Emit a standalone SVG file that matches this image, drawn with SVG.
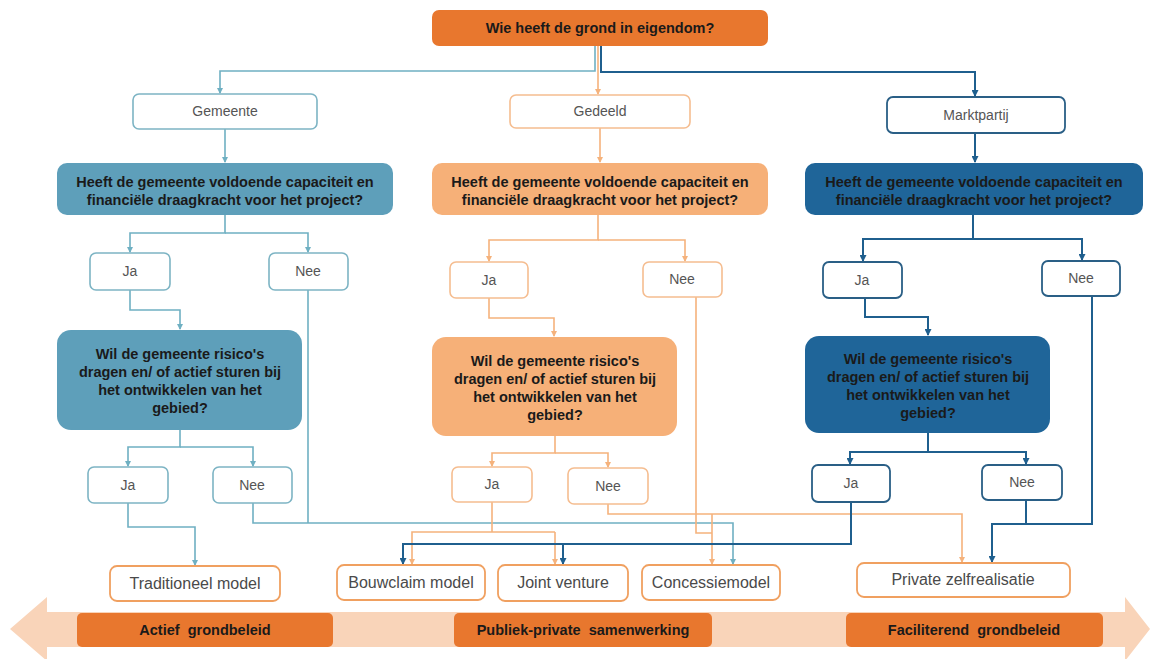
<svg xmlns="http://www.w3.org/2000/svg" width="1153" height="659" viewBox="0 0 1153 659">
<defs>
<style>
.q{font-family:"Liberation Sans",Arial,sans-serif;font-weight:bold;font-size:14.5px;fill:#1a1a1a;text-anchor:middle}
.t{font-family:"Liberation Sans",Arial,sans-serif;font-size:14px;fill:#555;text-anchor:middle}
.b{font-family:"Liberation Sans",Arial,sans-serif;font-size:16px;fill:#4a4a4a;text-anchor:middle}
.lt{fill:none;stroke:#6FB0C2;stroke-width:1.6}
.lo{fill:none;stroke:#F5B27C;stroke-width:1.6}
.ld{fill:none;stroke:#1F5F8E;stroke-width:2}
.wt{fill:#fff;stroke:#7DB4C4;stroke-width:1.6}
.wo{fill:#fff;stroke:#F5BD90;stroke-width:1.6}
.wd{fill:#fff;stroke:#2A5F86;stroke-width:1.8}
.wb{fill:#fff;stroke:#F0A060;stroke-width:1.8}
.ft{fill:#5E9FBA}
.fo{fill:#F6B078}
.fd{fill:#1F6599}
.fa{fill:#E8772E}
</style>
<marker id="mt" markerWidth="6" markerHeight="6" refX="5" refY="3" orient="auto" markerUnits="userSpaceOnUse"><path d="M0,0 L6,3 L0,6 z" fill="#6FB0C2"/></marker>
<marker id="mo" markerWidth="6" markerHeight="6" refX="5" refY="3" orient="auto" markerUnits="userSpaceOnUse"><path d="M0,0 L6,3 L0,6 z" fill="#F5B27C"/></marker>
<marker id="md" markerWidth="7" markerHeight="7" refX="6" refY="3.5" orient="auto" markerUnits="userSpaceOnUse"><path d="M0,0 L7,3.5 L0,7 z" fill="#1F5F8E"/></marker>
</defs>
<rect width="1153" height="659" fill="#fff"/>

<g id="band">
<polygon points="10,629 47,597 47,612 1125,612 1125,597 1150,629 1125,661 1125,647 47,647 47,661" fill="#F9D4B9"/>
</g>

<g id="connectors">
<path class="lt" d="M595,46 V71 H220 V93" marker-end="url(#mt)"/>
<path class="lo" d="M598,46 V94" marker-end="url(#mo)"/>
<path class="ld" d="M601,46 V72 H975 V96" marker-end="url(#md)"/>

<path class="lt" d="M225,129 V162" marker-end="url(#mt)"/>
<path class="lo" d="M600,128 V162" marker-end="url(#mo)"/>
<path class="ld" d="M975,133 V162" marker-end="url(#md)"/>

<path class="lt" d="M225,215 V233 H130 V252" marker-end="url(#mt)"/>
<path class="lt" d="M225,233 H308 V252" marker-end="url(#mt)"/>
<path class="lo" d="M598,215 V240 H489 V261" marker-end="url(#mo)"/>
<path class="lo" d="M598,240 H685 V261" marker-end="url(#mo)"/>
<path class="ld" d="M973,215 V239 H863 V261" marker-end="url(#md)"/>
<path class="ld" d="M973,239 H1082 V260" marker-end="url(#md)"/>

<path class="lt" d="M130,290 V310 H180 V329" marker-end="url(#mt)"/>
<path class="lo" d="M489,298 V318 H554 V336" marker-end="url(#mo)"/>
<path class="ld" d="M865,298 V317 H928 V335" marker-end="url(#md)"/>

<path class="lt" d="M180,430 V447 H128 V466" marker-end="url(#mt)"/>
<path class="lt" d="M180,447 H253 V466" marker-end="url(#mt)"/>
<path class="lo" d="M555,436 V453 H492 V466" marker-end="url(#mo)"/>
<path class="lo" d="M555,453 H608 V467" marker-end="url(#mo)"/>
<path class="ld" d="M928,433 V452 H850 V464" marker-end="url(#md)"/>
<path class="ld" d="M928,452 H1026 V464" marker-end="url(#md)"/>

<path class="lt" d="M128,503 V527 H195 V565" marker-end="url(#mt)"/>
<path class="lt" d="M253,503 V523 H733 V564" marker-end="url(#mt)"/>
<path class="lt" d="M308,290 V523"/>

<path class="lo" d="M492,502 V532"/>
<path class="lo" d="M555,532 H412 V564" marker-end="url(#mo)"/>
<path class="lo" d="M555,532 V564" marker-end="url(#mo)"/>
<path class="lo" d="M608,504 V514 H962 V562" marker-end="url(#mo)"/>
<path class="lo" d="M712,514 V564" marker-end="url(#mo)"/>
<path class="lo" d="M696,297 V533 H712"/>

<path class="ld" d="M851,502 V544 H403 V564" marker-end="url(#md)"/>
<path class="ld" d="M563,544 V564" marker-end="url(#md)"/>
<path class="ld" d="M1092,296 V524 H992 V562" marker-end="url(#md)"/>
<path class="ld" d="M1026,500 V524"/>
</g>

<g id="n-top"><rect x="432" y="10" width="336" height="36" rx="7" class="fa"/><text x="600" y="33" class="q">Wie heeft de grond in eigendom?</text></g>

<g id="n-gemeente"><rect x="133" y="94" width="184" height="35" rx="6" class="wt"/><text x="225" y="116" class="t">Gemeente</text></g>
<g id="n-gedeeld"><rect x="510" y="95" width="180" height="33" rx="6" class="wo"/><text x="600" y="116" class="t">Gedeeld</text></g>
<g id="n-markt"><rect x="887" y="97" width="178" height="36" rx="6" class="wd"/><text x="976" y="120" class="t">Marktpartij</text></g>

<g id="n-q1l"><rect x="57" y="163" width="336" height="52" rx="10" class="ft"/><text x="225" y="187" class="q">Heeft de gemeente voldoende capaciteit en</text><text x="225" y="205" class="q">financiële draagkracht voor het project?</text></g>
<g id="n-q1m"><rect x="432" y="163" width="336" height="52" rx="10" class="fo"/><text x="600" y="187" class="q">Heeft de gemeente voldoende capaciteit en</text><text x="600" y="205" class="q">financiële draagkracht voor het project?</text></g>
<g id="n-q1r"><rect x="805" y="163" width="338" height="52" rx="10" class="fd"/><text x="974" y="187" class="q">Heeft de gemeente voldoende capaciteit en</text><text x="974" y="205" class="q">financiële draagkracht voor het project?</text></g>

<g id="n-ja1l"><rect x="90" y="253" width="80" height="37" rx="6" class="wt"/><text x="130" y="276" class="t">Ja</text></g>
<g id="n-nee1l"><rect x="269" y="253" width="79" height="37" rx="6" class="wt"/><text x="308" y="276" class="t">Nee</text></g>
<g id="n-ja1m"><rect x="450" y="262" width="78" height="36" rx="6" class="wo"/><text x="489" y="285" class="t">Ja</text></g>
<g id="n-nee1m"><rect x="643" y="262" width="79" height="35" rx="6" class="wo"/><text x="682" y="284" class="t">Nee</text></g>
<g id="n-ja1r"><rect x="823" y="262" width="79" height="36" rx="6" class="wd"/><text x="862" y="285" class="t">Ja</text></g>
<g id="n-nee1r"><rect x="1042" y="261" width="78" height="35" rx="6" class="wd"/><text x="1081" y="283" class="t">Nee</text></g>

<g id="n-q2l"><rect x="57" y="330" width="245" height="100" rx="14" class="ft"/><text x="180" y="359" class="q">Wil de gemeente risico's</text><text x="180" y="377" class="q">dragen en/ of actief sturen bij</text><text x="180" y="395" class="q">het ontwikkelen van het</text><text x="180" y="413" class="q">gebied?</text></g>
<g id="n-q2m"><rect x="432" y="337" width="245" height="99" rx="14" class="fo"/><text x="555" y="366" class="q">Wil de gemeente risico's</text><text x="555" y="384" class="q">dragen en/ of actief sturen bij</text><text x="555" y="402" class="q">het ontwikkelen van het</text><text x="555" y="420" class="q">gebied?</text></g>
<g id="n-q2r"><rect x="805" y="336" width="245" height="97" rx="14" class="fd"/><text x="928" y="364" class="q">Wil de gemeente risico's</text><text x="928" y="382" class="q">dragen en/ of actief sturen bij</text><text x="928" y="400" class="q">het ontwikkelen van het</text><text x="928" y="418" class="q">gebied?</text></g>

<g id="n-ja2l"><rect x="88" y="467" width="80" height="36" rx="6" class="wt"/><text x="128" y="490" class="t">Ja</text></g>
<g id="n-nee2l"><rect x="213" y="467" width="79" height="36" rx="6" class="wt"/><text x="252" y="490" class="t">Nee</text></g>
<g id="n-ja2m"><rect x="452" y="467" width="80" height="35" rx="6" class="wo"/><text x="492" y="489" class="t">Ja</text></g>
<g id="n-nee2m"><rect x="568" y="468" width="80" height="36" rx="6" class="wo"/><text x="608" y="491" class="t">Nee</text></g>
<g id="n-ja2r"><rect x="812" y="465" width="78" height="37" rx="6" class="wd"/><text x="851" y="488" class="t">Ja</text></g>
<g id="n-nee2r"><rect x="982" y="465" width="80" height="35" rx="6" class="wd"/><text x="1022" y="487" class="t">Nee</text></g>

<g id="n-trad"><rect x="110" y="566" width="170" height="35" rx="7" class="wb"/><text x="195" y="589" class="b">Traditioneel model</text></g>
<g id="n-bouw"><rect x="337" y="565" width="148" height="35" rx="7" class="wb"/><text x="411" y="588" class="b">Bouwclaim model</text></g>
<g id="n-joint"><rect x="498" y="565" width="130" height="36" rx="7" class="wb"/><text x="563" y="588" class="b">Joint venture</text></g>
<g id="n-conc"><rect x="642" y="565" width="138" height="35" rx="7" class="wb"/><text x="711" y="588" class="b">Concessiemodel</text></g>
<g id="n-priv"><rect x="857" y="563" width="213" height="34" rx="7" class="wb"/><text x="963" y="585" class="b">Private zelfrealisatie</text></g>

<g id="n-actief"><rect x="77" y="613" width="256" height="34" rx="5" class="fa"/><text x="205" y="635" class="q" xml:space="preserve">Actief  grondbeleid</text></g>
<g id="n-pps"><rect x="454" y="613" width="258" height="34" rx="5" class="fa"/><text x="583" y="635" class="q" xml:space="preserve">Publiek-private  samenwerking</text></g>
<g id="n-fac"><rect x="846" y="613" width="257" height="34" rx="5" class="fa"/><text x="974" y="635" class="q" xml:space="preserve">Faciliterend  grondbeleid</text></g>
</svg>
